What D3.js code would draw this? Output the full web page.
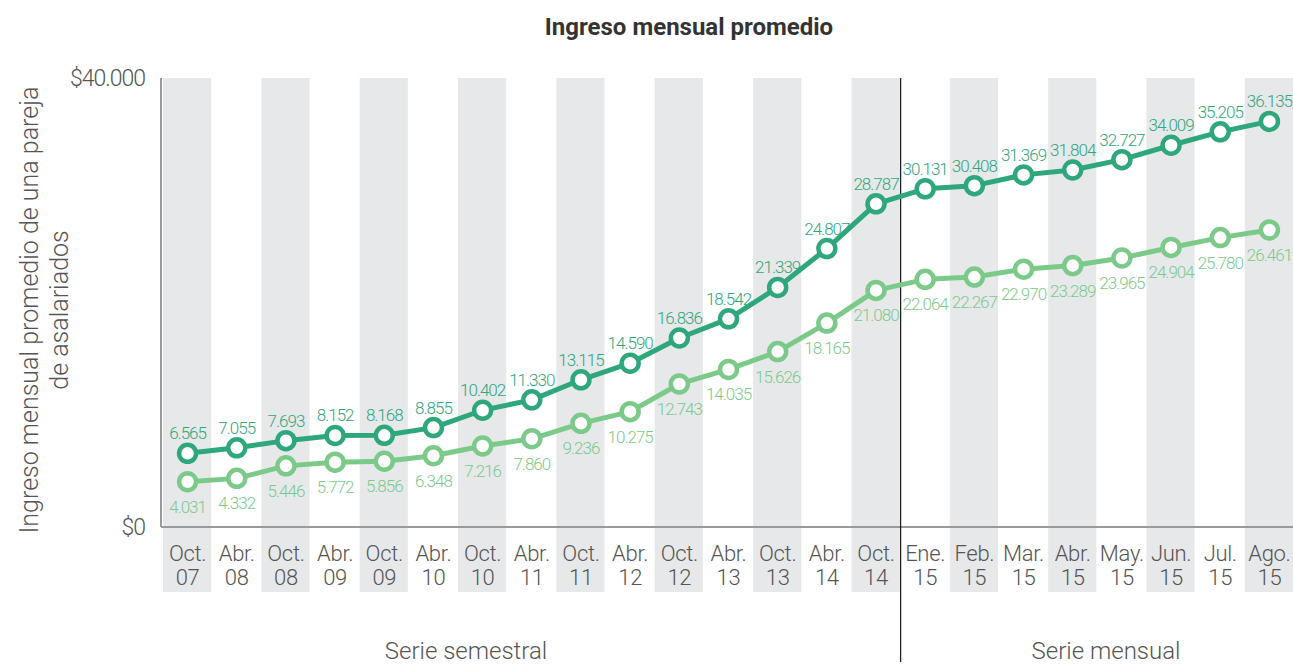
<!DOCTYPE html>
<html>
<head>
<meta charset="utf-8">
<script src="https://cdn.jsdelivr.net/npm/d3@7"></script>
<style>
  body { margin: 0; background: #fff; }
  text { font-family: "Roboto", "Open Sans", sans-serif; font-weight: 300; }
</style>
</head>
<body>
<svg id="chart" width="1293" height="666"></svg>
<script>
var months = ['Oct.', 'Abr.', 'Oct.', 'Abr.', 'Oct.', 'Abr.', 'Oct.', 'Abr.', 'Oct.', 'Abr.', 'Oct.', 'Abr.', 'Oct.', 'Abr.', 'Oct.',
  'Ene.', 'Feb.', 'Mar.', 'Abr.', 'May.', 'Jun.', 'Jul.', 'Ago.'];
var years = ['07', '08', '08', '09', '09', '10', '10', '11', '11', '12', '12', '13', '13', '14', '14',
  '15', '15', '15', '15', '15', '15', '15', '15'];
var serieAlta = [6565, 7055, 7693, 8152, 8168, 8855, 10402, 11330, 13115, 14590, 16836, 18542, 21339, 24807, 28787,
  30131, 30408, 31369, 31804, 32727, 34009, 35205, 36135];
var serieBaja = [4031, 4332, 5446, 5772, 5856, 6348, 7216, 7860, 9236, 10275, 12743, 14035, 15626, 18165, 21080,
  22064, 22267, 22970, 23289, 23965, 24904, 25780, 26461];
var yTicks = [0, 40000];
var nSemestral = 15;

var svg = d3.select('#chart');
var fmt = d3.format(',');
function fmtNum(v) { return fmt(v).replace(/,/g, '.'); }

var x = d3.scaleBand()
  .domain(d3.range(months.length))
  .range([163, 1294])
  .padding(0);

var y = d3.scaleLinear()
  .domain([0, 40000])
  .range([527, 78]);

// gray bands
svg.append('g')
  .selectAll('rect')
  .data(d3.range(months.length).filter(function(i) { return i % 2 === 0; }))
  .enter()
  .append('rect')
    .attr('x', function(i) { return x(i); })
    .attr('y', 78)
    .attr('width', x.bandwidth() - 1)
    .attr('height', 592 - 78)
    .attr('fill', '#e7e8ea');

// axes lines
svg.append('line')
  .attr('x1', 161).attr('x2', 161)
  .attr('y1', 78).attr('y2', 527)
  .attr('stroke', '#9a9a9a').attr('stroke-width', 2);
svg.append('line')
  .attr('x1', 161).attr('x2', 1293)
  .attr('y1', 527).attr('y2', 527)
  .attr('stroke', '#9a9a9a').attr('stroke-width', 2);

// y tick labels
svg.append('g')
  .selectAll('text')
  .data(yTicks)
  .enter()
  .append('text')
    .attr('x', 145)
    .attr('y', function(d) { return y(d) + 8; })
    .attr('text-anchor', 'end')
    .attr('font-size', 23)
    .attr('letter-spacing', -1)
    .attr('fill', '#555')
    .text(function(d) { return '$' + fmtNum(d); });

// x tick labels
var xl = svg.append('g')
  .selectAll('text')
  .data(d3.range(months.length))
  .enter()
  .append('text')
    .attr('text-anchor', 'middle')
    .attr('font-size', 22)
    .attr('letter-spacing', -0.3)
    .attr('fill', '#555');
xl.append('tspan')
  .attr('x', function(i) { return x(i) + x.bandwidth() / 2; })
  .attr('y', 561)
  .text(function(i) { return months[i]; });
xl.append('tspan')
  .attr('x', function(i) { return x(i) + x.bandwidth() / 2; })
  .attr('y', 585)
  .text(function(i) { return years[i]; });

// separator
var sepX = x(nSemestral);
svg.append('line')
  .attr('x1', sepX).attr('x2', sepX)
  .attr('y1', 78).attr('y2', 662)
  .attr('stroke', '#222').attr('stroke-width', 1.3);

// lines
function drawSeries(data, color, above) {
  var line = d3.line()
    .x(function(d, i) { return x(i) + x.bandwidth() / 2; })
    .y(function(d) { return y(d); });
  svg.append('path')
    .datum(data)
    .attr('d', line)
    .attr('fill', 'none')
    .attr('stroke', color)
    .attr('stroke-width', 5)
    .attr('stroke-linejoin', 'round');
  svg.append('g')
    .selectAll('circle')
    .data(data)
    .enter()
    .append('circle')
      .attr('cx', function(d, i) { return x(i) + x.bandwidth() / 2; })
      .attr('cy', function(d) { return y(d); })
      .attr('r', 8.5)
      .attr('fill', '#fff')
      .attr('stroke', color)
      .attr('stroke-width', 4.5);
  svg.append('g')
    .selectAll('text')
    .data(data)
    .enter()
    .append('text')
      .attr('x', function(d, i) { return x(i) + x.bandwidth() / 2; })
      .attr('y', function(d) { return above ? y(d) - 14 : y(d) + 31; })
      .attr('text-anchor', 'middle')
      .attr('font-size', 17)
      .attr('letter-spacing', -1)
      .attr('fill', color)
      .text(function(d) { return fmtNum(d); });
}
drawSeries(serieBaja, '#7cca8a', false);
drawSeries(serieAlta, '#2fa77c', true);

// title
svg.append('text')
  .attr('x', 689).attr('y', 35)
  .attr('text-anchor', 'middle')
  .attr('font-size', 24)
  .style('font-weight', 'bold')
  .attr('fill', '#333')
  .text('Ingreso mensual promedio');

// y axis title
var yt = svg.append('text')
  .attr('transform', 'translate(0,310) rotate(-90)')
  .attr('text-anchor', 'middle')
  .attr('font-size', 25)
  .attr('fill', '#555');
yt.append('tspan').attr('x', 0).attr('y', 38).text('Ingreso mensual promedio de una pareja');
yt.append('tspan').attr('x', 0).attr('y', 68).text('de asalariados');

// series labels
svg.append('text')
  .attr('x', 466).attr('y', 659)
  .attr('text-anchor', 'middle')
  .attr('font-size', 24)
  .attr('fill', '#555')
  .text('Serie semestral');
svg.append('text')
  .attr('x', 1106).attr('y', 659)
  .attr('text-anchor', 'middle')
  .attr('font-size', 24)
  .attr('fill', '#555')
  .text('Serie mensual');
</script>
</body>
</html>
